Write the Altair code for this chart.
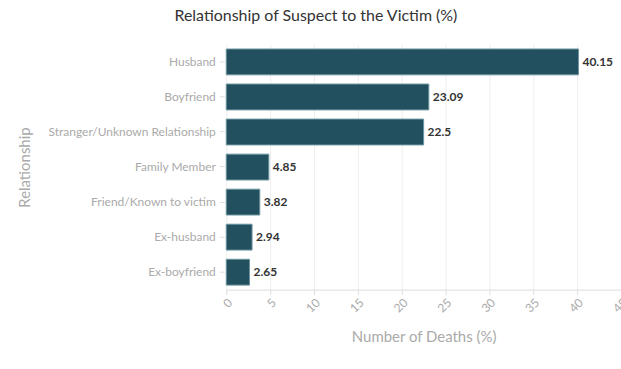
import altair as alt
import pandas as pd

relationships = ["Husband", "Boyfriend", "Stranger/Unknown Relationship", "Family Member",
                 "Friend/Known to victim", "Ex-husband", "Ex-boyfriend"]
deaths_pct = [40.15, 23.09, 22.5, 4.85, 3.82, 2.94, 2.65]

df = pd.DataFrame({"Relationship": relationships, "Deaths": deaths_pct})

FONT = "Lato"

base = alt.Chart(df).encode(
    y=alt.Y("Relationship:N", sort=relationships, title="Relationship",
            scale=alt.Scale(paddingInner=0.263, paddingOuter=0.13),
            axis=alt.Axis(labelColor="#aaaaaa", labelFontSize=12, titleColor="#aaaaaa",
                          titleFontSize=15, titleFontWeight="normal", tickColor="#dddddd",
                          domain=False, labelPadding=4, titlePadding=16, offset=2)),
    x=alt.X("Deaths:Q", title="Number of Deaths (%)",
            scale=alt.Scale(domain=[0, 45]),
            axis=alt.Axis(values=list(range(0, 50, 5)), labelAngle=-45, labelColor="#aaaaaa",
                          labelFontSize=12, titleColor="#aaaaaa", titleFontSize=15,
                          titleFontWeight="normal", tickColor="#dddddd", domainColor="#dddddd",
                          gridColor="#eeeeee", titlePadding=15)),
)

bars = base.mark_bar(color="#23505e", stroke="#6a95a0", strokeWidth=1)
text = base.mark_text(align="left", dx=4, fontWeight="bold", fontSize=12, color="#333333").encode(
    text=alt.Text("Deaths:Q"))

chart = (bars + text).properties(
    width=396, height=246,
    autosize=alt.AutoSizeParams(type="none"),
    padding={"left": 227, "top": 44, "right": 0, "bottom": 79},
    title=alt.TitleParams("Relationship of Suspect to the Victim (%)", fontSize=16,
                          fontWeight="normal", color="#333333", anchor="start", frame="group",
                          dx=-52, offset=21),
).configure(font=FONT).configure_view(stroke=None).configure_axisY(grid=False)

chart.save("out.html", embed_options={"renderer": "svg", "actions": False})
